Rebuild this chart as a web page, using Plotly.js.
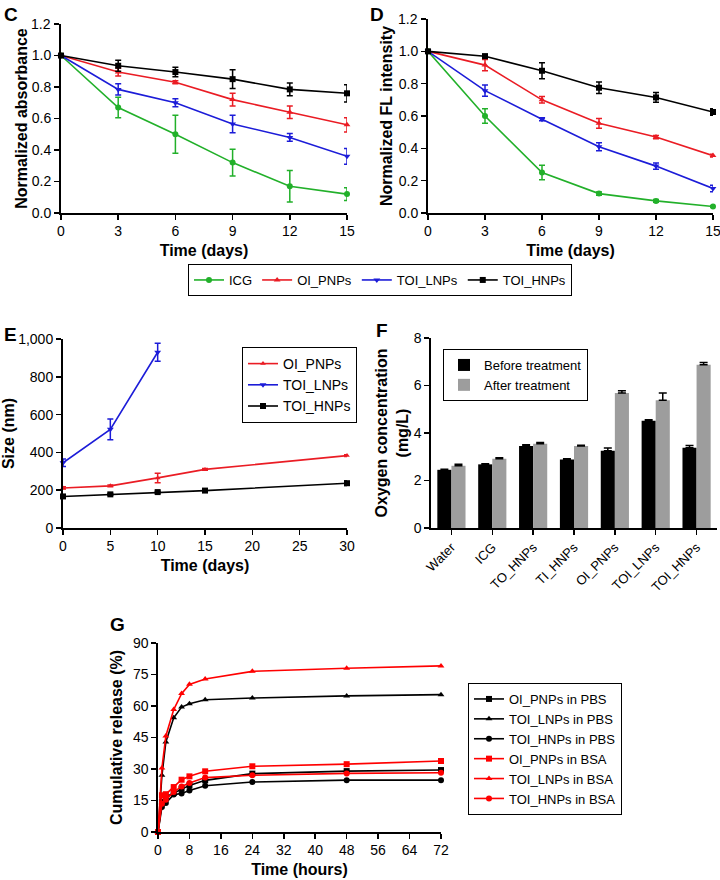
<!DOCTYPE html>
<html>
<head>
<meta charset="utf-8">
<script src="https://cdn.plot.ly/plotly-3.0.1.min.js"></script>
<style>
html,body{margin:0;padding:0;background:#fff;}
#chart{width:720px;height:880px;}
</style>
</head>
<body>
<div id="chart"></div>
<script>
// ---------- Data ----------
const days = [0, 3, 6, 9, 12, 15];
const normTicks = [0, 0.2, 0.4, 0.6, 0.8, 1.0, 1.2];
const normTickText = ["0.0", "0.2", "0.4", "0.6", "0.8", "1.0", ""];
const normTopValue = 1.2;
const normTopLabel = "1.2";
const seriesNames = ["ICG", "OI_PNPs", "TOI_LNPs", "TOI_HNPs"];

// Panel C: normalized absorbance
const absICG = [1.0, 0.67, 0.50, 0.32, 0.17, 0.12];
const absICGErr = [0, 0.065, 0.12, 0.085, 0.10, 0.04];
const absOI = [1.0, 0.895, 0.83, 0.72, 0.64, 0.56];
const absOIErr = [0, 0.025, 0.01, 0.04, 0.04, 0.045];
const absLNP = [1.0, 0.785, 0.70, 0.565, 0.48, 0.36];
const absLNPErr = [0, 0.035, 0.025, 0.055, 0.025, 0.05];
const absHNP = [1.0, 0.935, 0.895, 0.85, 0.785, 0.76];
const absHNPErr = [0, 0.035, 0.03, 0.06, 0.04, 0.055];

// Panel D: normalized FL intensity
const flICG = [1.0, 0.60, 0.25, 0.12, 0.075, 0.04];
const flICGErr = [0, 0.045, 0.045, 0.01, 0.008, 0.005];
const flOI = [1.0, 0.915, 0.70, 0.555, 0.47, 0.355];
const flOIErr = [0, 0.035, 0.02, 0.03, 0.01, 0.008];
const flLNP = [1.0, 0.757, 0.58, 0.41, 0.29, 0.152];
const flLNPErr = [0, 0.035, 0.01, 0.025, 0.02, 0.02];
const flHNP = [1.0, 0.97, 0.88, 0.775, 0.715, 0.625];
const flHNPErr = [0, 0.012, 0.05, 0.035, 0.03, 0.02];

// Panel E: size (nm)
const sizeDays = [0, 5, 10, 15, 30];
const sizeLNPDays = [0, 5, 10];
const sizeOI = [212, 223, 265, 310, 383];
const sizeOIErr = [6, 5, 25, 5, 5];
const sizeLNP = [345, 522, 930];
const sizeLNPErr = [20, 55, 48];
const sizeHNP = [167, 178, 190, 198, 237];
const sizeHNPErr = [5, 5, 5, 5, 12];

// Panel F: oxygen concentration (mg/L)
const o2Categories = ["Water", "ICG", "TO_HNPs", "TI_HNPs", "OI_PNPs", "TOI_LNPs", "TOI_HNPs"];
const o2Before = [2.45, 2.68, 3.45, 2.88, 3.25, 4.52, 3.38];
const o2BeforeErr = [0.02, 0.03, 0.06, 0.04, 0.12, 0.04, 0.09];
const o2After = [2.62, 2.92, 3.55, 3.45, 5.68, 5.38, 6.87];
const o2AfterErr = [0.06, 0.04, 0.05, 0.03, 0.1, 0.3, 0.1];

// Panel G: cumulative release (%)
const hours = [0, 1, 2, 4, 6, 8, 12, 24, 48, 72];
const relOIPBS = [0, 14.3, 16.7, 18.6, 20.6, 22.2, 24.6, 27.8, 29.0, 29.5];
const relLNPPBS = [0, 27.0, 42.9, 54.4, 59.5, 61.1, 63.0, 63.8, 64.8, 65.4];
const relHNPPBS = [0, 11.9, 13.8, 17.8, 18.3, 19.8, 22.0, 23.8, 24.7, 24.7];
const relOIBSA = [0, 17.5, 18.0, 21.4, 24.9, 26.5, 28.9, 31.3, 32.3, 33.8];
const relLNPBSA = [0, 30.5, 45.7, 58.3, 65.9, 70.3, 72.9, 76.5, 78.0, 79.1];
const relHNPBSA = [0, 13.5, 15.4, 19.0, 21.7, 23.3, 25.9, 27.0, 27.9, 28.2];
const releaseNames = ["OI_PNPs in PBS", "TOI_LNPs in PBS", "TOI_HNPs in PBS",
                      "OI_PNPs in BSA", "TOI_LNPs in BSA", "TOI_HNPs in BSA"];

// ---------- Styles ----------
const FONT = "Liberation Sans, Arial, Helvetica, sans-serif";
const GREEN = "#22b02a", RED = "#ea1c24", BLUE = "#1c1cd8", BLACK = "#000000";
const RED2 = "#ff0000";
const colors = [GREEN, RED, BLUE, BLACK];
const symbols = ["circle", "triangle-up", "triangle-down", "square"];

function lineTrace(x, y, err, name, color, symbol, xa, ya, legend, showlegend, msize) {
  const t = {
    type: "scatter", mode: "lines+markers", x: x, y: y, name: name,
    xaxis: xa, yaxis: ya, legend: legend, showlegend: showlegend,
    line: {color: color, width: 1.6},
    marker: {color: color, symbol: symbol, size: msize || 6},
    cliponaxis: false, hoverinfo: "x+y+name"
  };
  if (err) t.error_y = {type: "data", array: err, visible: true, color: color, thickness: 1.5, width: 3};
  return t;
}

const traces = [];
// Panel C
[[absICG, absICGErr], [absOI, absOIErr], [absLNP, absLNPErr], [absHNP, absHNPErr]].forEach((d, i) => {
  traces.push(lineTrace(days, d[0], d[1], seriesNames[i], colors[i], symbols[i], "x", "y", "legend", true));
});
// Panel D
[[flICG, flICGErr], [flOI, flOIErr], [flLNP, flLNPErr], [flHNP, flHNPErr]].forEach((d, i) => {
  traces.push(lineTrace(days, d[0], d[1], seriesNames[i], colors[i], symbols[i], "x2", "y2", "legend", false));
});
// Panel E
traces.push(lineTrace(sizeDays, sizeOI, sizeOIErr, "OI_PNPs", RED, "triangle-up", "x3", "y3", "legend2", true, 5));
traces.push(lineTrace(sizeLNPDays, sizeLNP, sizeLNPErr, "TOI_LNPs", BLUE, "triangle-down", "x3", "y3", "legend2", true, 6));
traces.push(lineTrace(sizeDays, sizeHNP, sizeHNPErr, "TOI_HNPs", BLACK, "square", "x3", "y3", "legend2", true, 6));
// Panel F
traces.push({
  type: "bar", x: o2Categories, y: o2Before, name: "Before treatment",
  xaxis: "x4", yaxis: "y4", legend: "legend3",
  marker: {color: "#000000"},
  error_y: {type: "data", array: o2BeforeErr, arrayminus: o2BeforeErr.map(() => 0), visible: true, color: "#000", thickness: 1.5, width: 4}
});
traces.push({
  type: "bar", x: o2Categories, y: o2After, name: "After treatment",
  xaxis: "x4", yaxis: "y4", legend: "legend3",
  marker: {color: "#9d9d9d"},
  error_y: {type: "data", array: o2AfterErr, arrayminus: o2AfterErr.map(() => 0), visible: true, color: "#000", thickness: 1.5, width: 4}
});
// Panel G
const relData = [relOIPBS, relLNPPBS, relHNPPBS, relOIBSA, relLNPBSA, relHNPBSA];
const relColors = [BLACK, BLACK, BLACK, RED2, RED2, RED2];
const relSymbols = ["square", "triangle-up", "circle", "square", "triangle-up", "circle"];
relData.forEach((d, i) => {
  traces.push(lineTrace(hours, d, null, releaseNames[i], relColors[i], relSymbols[i], "x5", "y5", "legend4", true, 6));
});

// ---------- Layout ----------
const W = 720, H = 880;
const dx = (a, b) => [a / W, b / W];
const dy = (top, bottom) => [1 - bottom / H, 1 - top / H];

function axis(extra) {
  return Object.assign({
    showline: true, linecolor: "#000", linewidth: 1.6,
    ticks: "outside", ticklen: 5, tickwidth: 1.5, tickcolor: "#000",
    showgrid: false, zeroline: false, fixedrange: true, ticklabeloverflow: "allow",
    tickfont: {family: FONT, size: 14, color: "#000"}
  }, extra);
}
const titleFont = {family: FONT, size: 16, color: "#000", weight: "bold"};

function panelLabel(text, x, y) {
  return {text: "<b>" + text + "</b>", x: x / W, y: 1 - y / H, xref: "paper", yref: "paper",
          xanchor: "left", yanchor: "top", showarrow: false,
          font: {family: FONT, size: 19, color: "#000"}};
}
// top tick label of the normalized axes, placed on the axis' own scale
function topTickLabel(yref, axisLeftPx) {
  return {text: normTopLabel, x: (axisLeftPx - 8) / W, xref: "paper", xanchor: "right",
          y: normTopValue, yref: yref, yanchor: "middle", showarrow: false,
          font: {family: FONT, size: 14, color: "#000"}};
}

const layout = {
  width: W, height: H,
  margin: {l: 0, r: 0, t: 0, b: 0},
  paper_bgcolor: "#fff", plot_bgcolor: "#fff",
  font: {family: FONT, color: "#000"},
  showlegend: true,
  bargap: 0.31, bargroupgap: 0, barmode: "group",
  // Panel C
  xaxis: axis({domain: dx(61, 347), range: [0, 15], tickvals: days, anchor: "y",
               title: {text: "<b>Time (days)</b>", font: titleFont, standoff: 6}}),
  yaxis: axis({domain: dy(24, 213), range: [0, 1.2002], tickvals: normTicks, ticktext: normTickText, anchor: "x",
               linewidth: 2,
               title: {text: "<b>Normalized absorbance</b>", font: titleFont, standoff: 0}}),
  // Panel D
  xaxis2: axis({domain: dx(428, 713), range: [0, 15], tickvals: days, anchor: "y2",
                title: {text: "<b>Time (days)</b>", font: titleFont, standoff: 6}}),
  yaxis2: axis({domain: dy(19, 213), range: [0, 1.2002], tickvals: normTicks, ticktext: normTickText, anchor: "x2",
                linewidth: 2,
                title: {text: "<b>Normalized FL intensity</b>", font: titleFont, standoff: 2}}),
  // Panel E
  xaxis3: axis({domain: dx(63, 347), range: [0, 30], dtick: 5, anchor: "y3",
                title: {text: "<b>Time (days)</b>", font: titleFont, standoff: 6}}),
  yaxis3: axis({domain: dy(339, 528), range: [0, 1000], dtick: 200, tickformat: ",", anchor: "x3",
                linewidth: 2,
                title: {text: "<b>Size (nm)</b>", font: titleFont, standoff: 8}}),
  // Panel F
  xaxis4: axis({domain: dx(431, 717), range: [-0.5, 6.5], anchor: "y4", type: "category",
                tickangle: -45, tickfont: {family: FONT, size: 13, color: "#000"}}),
  yaxis4: axis({domain: dy(338, 528), range: [0, 8], dtick: 2, anchor: "x4",
                title: {text: "<b>Oxygen concentration<br>(mg/L)</b>", font: titleFont, standoff: 1}}),
  // Panel G
  xaxis5: axis({domain: dx(158, 441), range: [0, 72], dtick: 8, anchor: "y5",
                title: {text: "<b>Time (hours)</b>", font: titleFont, standoff: 6}}),
  yaxis5: axis({domain: dy(643, 832), range: [0, 90], dtick: 15, anchor: "x5",
                title: {text: "<b>Cumulative release (%)</b>", font: titleFont, standoff: 6}}),
  legend: {orientation: "h", x: 380 / W, xanchor: "center", y: 1 - 264 / H, yanchor: "top",
           bordercolor: "#000", borderwidth: 1, bgcolor: "#fff",
           font: {family: FONT, size: 13, color: "#000"}},
  legend2: {x: 242 / W, xanchor: "left", y: 1 - 347 / H, yanchor: "top",
            bordercolor: "#000", borderwidth: 1, bgcolor: "#fff",
            font: {family: FONT, size: 14, color: "#000"}},
  legend3: {x: 443 / W, xanchor: "left", y: 1 - 349 / H, yanchor: "top",
            bordercolor: "#000", borderwidth: 1, bgcolor: "#fff",
            font: {family: FONT, size: 13, color: "#000"}},
  legend4: {x: 468 / W, xanchor: "left", y: 1 - 683 / H, yanchor: "top",
            bordercolor: "#000", borderwidth: 1, bgcolor: "#fff",
            font: {family: FONT, size: 13, color: "#000"}},
  annotations: [
    panelLabel("C", 2, 2),
    panelLabel("D", 368, 2),
    panelLabel("E", 2, 322),
    panelLabel("F", 374, 318),
    panelLabel("G", 108, 612),
    topTickLabel("y", 61),
    topTickLabel("y2", 428)
  ]
};

Plotly.newPlot("chart", traces, layout, {displayModeBar: false, staticPlot: true});
</script>
</body>
</html>
